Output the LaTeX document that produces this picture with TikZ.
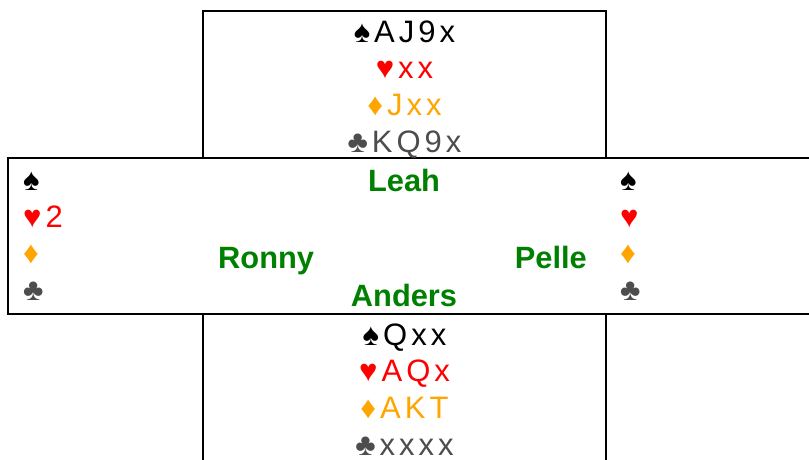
\documentclass[tikz,border=0pt]{standalone}
\usepackage{fontspec}
\setmainfont{Liberation Sans}
\newfontfamily\cardfont[LetterSpace=13]{Liberation Sans}
\definecolor{hcol}{RGB}{255,0,0}
\definecolor{dcol}{RGB}{255,165,0}
\definecolor{ccol}{RGB}{77,77,77}
\definecolor{ncol}{RGB}{0,128,0}
\tikzset{
  card/.style={inner sep=0pt, anchor=base, font=\cardfont\fontsize{31}{36}\selectfont},
  cardw/.style={card, anchor=base west},
  pname/.style={inner sep=0pt, anchor=base, text=ncol, font=\bfseries\fontsize{30.8}{36}\selectfont},
  frame/.style={draw=black, line width=2pt}
}
\begin{document}
\begin{tikzpicture}[x=1pt,y=-1pt]
\useasboundingbox (0,0) rectangle (809,459);
\clip (0,0) rectangle (809,459);
\draw[frame] (203,11) rectangle (606,158);
\draw[frame] (8,158) rectangle (830,314);
\draw[frame] (203,314) rectangle (606,480);
% North
\node[card] (n1) at (404.5,42) {♠AJ9x};
\node[card, text=hcol] (n2) at (404.5,78.5) {♥xx};
\node[card, text=dcol] (n3) at (404.5,115) {♦Jxx};
\node[card, text=ccol] (n4) at (404.5,152) {♣KQ9x};
% West
\node[cardw] (w1) at (23,190) {♠};
\node[cardw, text=hcol] (w2) at (23,227) {♥2};
\node[cardw, text=dcol] (w3) at (23,263) {♦};
\node[cardw, text=ccol] (w4) at (23,300) {♣};
% East
\node[cardw] (e1) at (620,190) {♠};
\node[cardw, text=hcol] (e2) at (620,227) {♥};
\node[cardw, text=dcol] (e3) at (620,263) {♦};
\node[cardw, text=ccol] (e4) at (620,300) {♣};
% Names
\node[pname] (leah) at (404,191.5) {Leah};
\node[pname, anchor=base west] (ronny) at (218,268) {Ronny};
\node[pname, anchor=base east] (pelle) at (587,268) {Pelle};
\node[pname] (anders) at (404,306.5) {Anders};
% South
\node[card] (s1) at (404.5,345) {♠Qxx};
\node[card, text=hcol] (s2) at (404.5,381.5) {♥AQx};
\node[card, text=dcol] (s3) at (404.5,418) {♦AKT};
\node[card, text=ccol] (s4) at (404.5,455) {♣xxxx};
\end{tikzpicture}
\end{document}
